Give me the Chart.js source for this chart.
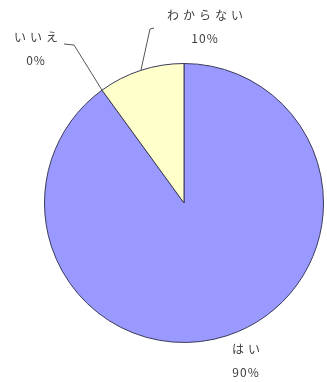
<!DOCTYPE html>
<html>
<head>
<meta charset="utf-8">
<script src="https://cdn.jsdelivr.net/npm/chart.js@4/dist/chart.umd.min.js"></script>
<style>
  html, body { margin: 0; padding: 0; background: #fff; }
  #wrap { width: 327px; height: 382px; position: relative; }
</style>
</head>
<body>
<div id="wrap"><canvas id="c" width="327" height="382"></canvas></div>
<script>
// Survey answers and their shares (%)
const categories = ['はい', 'いいえ', 'わからない'];
const shares = [90, 0, 10];
const sliceColors = ['#9999FF', '#FF9999', '#FFFFCC'];

// Where each outside label sits and how its leader line bends
const labelLayout = [
  { x: 246, y: 349, leader: null },
  { x: 36, y: 37, leader: [[64, 44], [74, 45]] },
  { x: 205, y: 15, leader: [[154, 28], [150, 29]] }
];

const outsideLabels = {
  id: 'outsideLabels',
  afterDatasetsDraw(chart) {
    const ctx = chart.ctx;
    const meta = chart.getDatasetMeta(0);
    ctx.save();
    meta.data.forEach((arc, i) => {
      const L = labelLayout[i];
      const p = arc.getProps(['x', 'y', 'startAngle', 'endAngle', 'outerRadius'], true);
      const mid = (p.startAngle + p.endAngle) / 2;
      if (L.leader) {
        const ax = p.x + Math.cos(mid) * p.outerRadius;
        const ay = p.y + Math.sin(mid) * p.outerRadius;
        ctx.strokeStyle = '#555';
        ctx.lineWidth = 1;
        ctx.beginPath();
        ctx.moveTo(L.leader[0][0], L.leader[0][1]);
        ctx.lineTo(L.leader[1][0], L.leader[1][1]);
        ctx.lineTo(ax, ay);
        ctx.stroke();
      }
      ctx.fillStyle = '#3c3c3c';
      ctx.textAlign = 'center';
      ctx.textBaseline = 'middle';
      ctx.font = '12px "Noto Sans CJK JP"';
      ctx.letterSpacing = '4px';
      ctx.fillText(categories[i], L.x + 2, L.y);
      ctx.letterSpacing = '1px';
      ctx.font = '12px "Noto Sans CJK JP"';
      ctx.fillText(shares[i] + '%', L.x, L.y + 23);
    });
    ctx.restore();
  }
};

new Chart(document.getElementById('c'), {
  type: 'pie',
  data: {
    labels: categories,
    datasets: [{
      data: shares,
      backgroundColor: sliceColors,
      borderColor: '#3a3a5a',
      borderWidth: 1
    }]
  },
  options: {
    responsive: false,
    animation: false,
    layout: { padding: { left: 44, right: 3, top: 63, bottom: 39 } },
    plugins: {
      legend: { display: false },
      tooltip: { enabled: false }
    }
  },
  plugins: [outsideLabels]
});
</script>
</body>
</html>
